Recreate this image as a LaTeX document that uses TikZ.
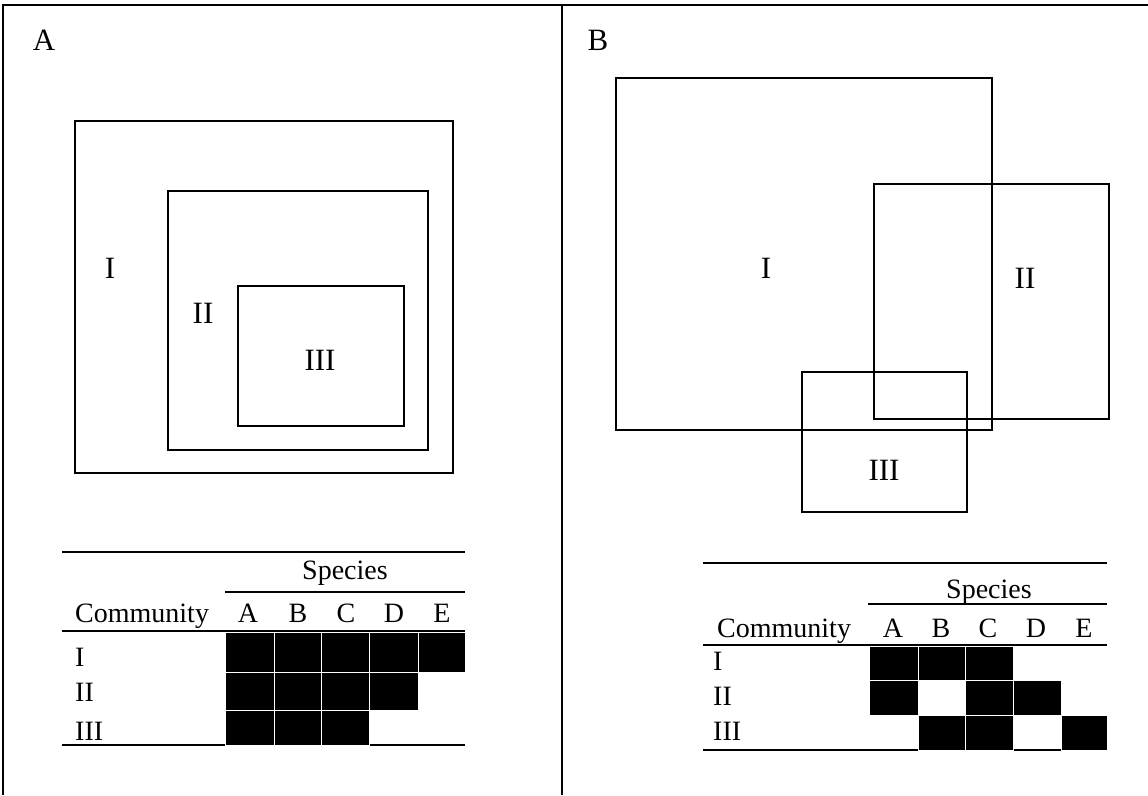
\documentclass[tikz,border=0pt]{standalone}
\usepackage{fontspec}
\setmainfont{Liberation Serif}
\usetikzlibrary{positioning}

\begin{document}
\begin{tikzpicture}[
		x=1pt, y=-1pt,
		frame/.style={line width=2.6pt},
		region/.style={draw, line width=2.8pt},
		rule/.style={line width=1.9pt},
		cell/.style={fill=black, draw=white, line width=1pt},
		reglabel/.style={font=\fontsize{31}{36}\selectfont, inner sep=0pt},
		tabtext/.style={font=\fontsize{28}{34}\selectfont, inner sep=0pt, anchor=base}
		]
		\useasboundingbox (0,0) rectangle (1148,795);
		
		% Frame
		\draw[frame] (3,795) -- (3,5) -- (1148,5);
		\draw[frame] (562,5) -- (562,795);
		\node[reglabel, anchor=base] (panelA) at (44,50) {A};
		\node[reglabel, anchor=base] (panelB) at (598,50) {B};
		
		% Panel A: nested communities
		\draw[region] (75,121) rectangle (453,473);
		\draw[region] (168,191) rectangle (428,450);
		\draw[region] (238,286) rectangle (404,426);
		\node[reglabel] (aI) at (110,268) {I};
		\node[reglabel] (aII) at (203,313) {II};
		\node[reglabel] (aIII) at (320,360) {III};
		
		% Panel B: overlapping communities
		\draw[region] (616,78) rectangle (992,430);
		\draw[region] (874,184) rectangle (1109,419);
		\draw[region] (802,372) rectangle (967,512);
		\node[reglabel] (bI) at (766,268) {I};
		\node[reglabel] (bII) at (1025,278) {II};
		\node[reglabel] (bIII) at (884,470) {III};
		
		% Table A
		\draw[rule] (62,552) -- (465,552);
		\node[tabtext] (aSpecies) at (345,579) {Species};
		\draw[rule] (225,592) -- (465,592);
		\node[tabtext, anchor=base west] (aComm) at (75,622) {Community};
		\node[tabtext] (aA) at (248,622) {A};
		\node[tabtext] (aB) at (298,622) {B};
		\node[tabtext] (aC) at (346,622) {C};
		\node[tabtext] (aD) at (394,622) {D};
		\node[tabtext] (aE) at (442,622) {E};
		\draw[rule] (62,631) -- (465,631);
		\node[tabtext, anchor=base west] (arI) at (75,666) {I};
		\node[tabtext, anchor=base west] (arII) at (75,701) {II};
		\node[tabtext, anchor=base west] (arIII) at (75,740) {III};
		\draw[rule] (62,745) -- (465,745);
		\draw[cell] (225,632) rectangle (274,672);
		\draw[cell] (274,632) rectangle (321,672);
		\draw[cell] (321,632) rectangle (369,672);
		\draw[cell] (369,632) rectangle (418,672);
		\draw[cell] (418,632) rectangle (465,672);
		\draw[cell] (225,672) rectangle (274,710);
		\draw[cell] (274,672) rectangle (321,710);
		\draw[cell] (321,672) rectangle (369,710);
		\draw[cell] (369,672) rectangle (418,710);
		\draw[cell] (225,710) rectangle (274,745);
		\draw[cell] (274,710) rectangle (321,745);
		\draw[cell] (321,710) rectangle (369,745);
		
		% Table B
		\draw[rule] (703,563) -- (1107,563);
		\node[tabtext] (bSpecies) at (989,598) {Species};
		\draw[rule] (868,604) -- (1107,604);
		\node[tabtext, anchor=base west] (bComm) at (717,637) {Community};
		\node[tabtext] (bA) at (893,637) {A};
		\node[tabtext] (bB) at (941,637) {B};
		\node[tabtext] (bC) at (988,637) {C};
		\node[tabtext] (bD) at (1036,637) {D};
		\node[tabtext] (bE) at (1084,637) {E};
		\draw[rule] (703,645) -- (1107,645);
		\node[tabtext, anchor=base west] (brI) at (713,670) {I};
		\node[tabtext, anchor=base west] (brII) at (713,705) {II};
		\node[tabtext, anchor=base west] (brIII) at (713,740) {III};
		\draw[rule] (703,750) -- (1107,750);
		\draw[cell] (869,646) rectangle (918,680);
		\draw[cell] (918,646) rectangle (965,680);
		\draw[cell] (965,646) rectangle (1013,680);
		\draw[cell] (869,680) rectangle (918,715);
		\draw[cell] (965,680) rectangle (1013,715);
		\draw[cell] (1013,680) rectangle (1061,715);
		\draw[cell] (918,715) rectangle (965,750);
		\draw[cell] (965,715) rectangle (1013,750);
		\draw[cell] (1061,715) rectangle (1107,750);
		
	\end{tikzpicture}
\end{document}
